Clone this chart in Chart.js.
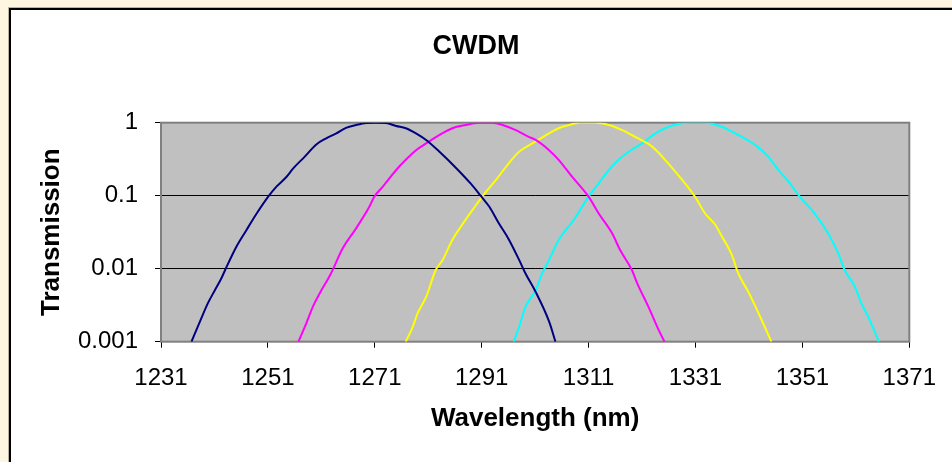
<!DOCTYPE html>
<html>
<head>
<meta charset="utf-8">
<script src="https://cdn.jsdelivr.net/npm/chart.js@4"></script>
<style>
  body { margin: 0; background: #fef6e0; width: 952px; height: 462px; overflow: hidden; }
  .frame { position: absolute; left: 9px; top: 8px; width: 960px; height: 470px; background: #fff;
    border-left: 2px solid #000; border-top: 2px solid #000; box-shadow: -1px -1px 0 #b9b39f; }
  #chart { position: absolute; left: 0; top: 0; }
</style>
</head>
<body>
<div class="frame"></div>
<canvas id="chart" width="952" height="462"></canvas>
<script>
const chartTitle = "CWDM";
const xTicks = [1231, 1251, 1271, 1291, 1311, 1331, 1351, 1371];
const yTicks = [1, 0.1, 0.01, 0.001];

const navyNm = [1236.7, 1238.3, 1239.8, 1241.1, 1242.3, 1243.0, 1245.1, 1247.0, 1248.9, 1251.2, 1252.6, 1254.5, 1255.7, 1257.9, 1260.0, 1261.9, 1263.8, 1265.6, 1267.5, 1269.4, 1271.2, 1273.1, 1275.0, 1276.8, 1278.7, 1280.6, 1283.1, 1286.2, 1289.0, 1290.8, 1292.4, 1294.2, 1296.1, 1298.0, 1299.2, 1301.1, 1303.6, 1304.8];
const navyT = [0.001, 0.0019, 0.0034, 0.0051, 0.0074, 0.0096, 0.020, 0.034, 0.057, 0.1, 0.133, 0.182, 0.235, 0.343, 0.50, 0.61, 0.715, 0.85, 0.93, 0.99, 1, 0.99, 0.9, 0.84, 0.715, 0.58, 0.40, 0.24, 0.145, 0.1, 0.071, 0.042, 0.025, 0.0132, 0.0086, 0.0048, 0.0019, 0.001];

const magentaNm = [1256.7, 1258.2, 1259.4, 1260.7, 1262.8, 1265.0, 1267.5, 1270.0, 1270.9, 1272.5, 1275.0, 1276.8, 1278.7, 1280.6, 1283.1, 1285.5, 1288.0, 1290.5, 1293.0, 1294.9, 1297.4, 1299.8, 1301.1, 1303.6, 1305.4, 1307.9, 1311.0, 1312.9, 1315.4, 1316.9, 1319.1, 1320.1, 1322.2, 1324.1, 1325.2];
const magentaT = [0.001, 0.0018, 0.003, 0.0046, 0.0086, 0.019, 0.0357, 0.071, 0.097, 0.133, 0.225, 0.31, 0.42, 0.52, 0.68, 0.84, 0.93, 1, 1, 0.93, 0.79, 0.64, 0.58, 0.42, 0.31, 0.182, 0.097, 0.057, 0.0305, 0.018, 0.0096, 0.0063, 0.003, 0.00145, 0.001];

const yellowNm = [1276.8, 1278.1, 1279.0, 1280.6, 1282.4, 1283.7, 1285.5, 1287.1, 1289.3, 1291.1, 1293.9, 1296.1, 1298.0, 1300.5, 1303.6, 1305.4, 1307.3, 1309.2, 1312.3, 1314.8, 1317.3, 1319.7, 1322.9, 1325.3, 1327.8, 1330.9, 1332.8, 1334.7, 1335.9, 1337.8, 1339.0, 1340.9, 1342.8, 1345.2];
const yellowT = [0.001, 0.0016, 0.00245, 0.0041, 0.0096, 0.0132, 0.0247, 0.0377, 0.064, 0.097, 0.173, 0.28, 0.40, 0.52, 0.715, 0.84, 0.93, 1, 1, 0.93, 0.79, 0.64, 0.47, 0.31, 0.19, 0.097, 0.057, 0.040, 0.028, 0.0155, 0.0086, 0.0048, 0.00245, 0.001];

const cyanNm = [1297.0, 1298.0, 1299.2, 1301.1, 1302.3, 1303.6, 1305.4, 1308.2, 1311.0, 1312.9, 1314.8, 1316.6, 1318.5, 1321.0, 1323.5, 1326.0, 1328.5, 1329.7, 1332.8, 1335.9, 1339.0, 1342.1, 1344.6, 1346.5, 1348.4, 1350.5, 1353.3, 1355.8, 1357.7, 1358.9, 1360.8, 1362.0, 1363.3, 1365.3];
const cyanT = [0.001, 0.0016, 0.003, 0.0051, 0.0086, 0.0132, 0.0247, 0.0465, 0.097, 0.148, 0.225, 0.31, 0.40, 0.52, 0.715, 0.88, 0.98, 1, 1, 0.88, 0.68, 0.50, 0.343, 0.225, 0.156, 0.097, 0.057, 0.0305, 0.0162, 0.0096, 0.0057, 0.0034, 0.0022, 0.001];

function points(xs, ys) {
  return xs.map((x, i) => ({ x, y: ys[i] }));
}

function series(xs, ys, color) {
  return {
    data: points(xs, ys),
    borderColor: color,
    borderWidth: 2,
    pointRadius: 0,
    cubicInterpolationMode: "monotone",
    fill: false,
  };
}

const FONT = "'Liberation Sans', Arial, sans-serif";

// grey plot background, frame and the centred title
const plotArea = {
  id: "plotArea",
  beforeDraw(chart) {
    const { ctx, chartArea: a } = chart;
    ctx.save();
    ctx.fillStyle = "#c0c0c0";
    ctx.fillRect(a.left, a.top, a.right - a.left, a.bottom - a.top);
    ctx.restore();
  },
  beforeDatasetsDraw(chart) {
    const { ctx, chartArea: a } = chart;
    ctx.save();
    ctx.strokeStyle = "#808080";
    ctx.lineWidth = 2;
    ctx.strokeRect(a.left, a.top, a.right - a.left, a.bottom - a.top);
    ctx.restore();
  },
  afterDraw(chart) {
    const { ctx } = chart;
    ctx.save();
    ctx.fillStyle = "#000";
    ctx.font = "bold 27px " + FONT;
    ctx.textAlign = "center";
    ctx.textBaseline = "middle";
    ctx.fillText(chartTitle, 476, 47);
    ctx.restore();
  },
};

new Chart(document.getElementById("chart"), {
  type: "line",
  data: {
    datasets: [
      series(navyNm, navyT, "#000080"),
      series(magentaNm, magentaT, "#ff00ff"),
      series(yellowNm, yellowT, "#ffff00"),
      series(cyanNm, cyanT, "#00ffff"),
    ],
  },
  options: {
    responsive: false,
    animation: false,
    layout: { padding: { left: 0, right: 41, top: 122.7, bottom: 0 } },
    plugins: {
      legend: { display: false },
      tooltip: { enabled: false },
      title: { display: false },
    },
    scales: {
      x: {
        type: "linear",
        min: 1231,
        max: 1371,
        afterBuildTicks: (scale) => { scale.ticks = xTicks.map((v) => ({ value: v })); },
        afterFit: (scale) => { scale.height = 120.3; },
        ticks: {
          color: "#000",
          font: { family: FONT, size: 24 },
          padding: 16,
          maxRotation: 0,
          callback: (value) => String(value),
        },
        grid: { drawOnChartArea: false, drawTicks: true, tickLength: 6, color: "#000" },
        border: { display: false },
        title: {
          display: true,
          text: "Wavelength (nm)",
          color: "#000",
          font: { family: FONT, size: 26, weight: "bold" },
          padding: { top: 0, bottom: 27.4 },
        },
      },
      y: {
        type: "logarithmic",
        min: 0.001,
        max: 1,
        afterBuildTicks: (scale) => { scale.ticks = yTicks.map((v) => ({ value: v })); },
        afterFit: (scale) => { scale.width = 161; },
        ticks: {
          color: "#000",
          font: { family: FONT, size: 24 },
          padding: 17,
          callback: (value) => String(value),
        },
        grid: { color: "#000", lineWidth: 1, tickLength: 6 },
        border: { display: false },
        title: {
          display: true,
          text: "Transmission",
          color: "#000",
          font: { family: FONT, size: 26, weight: "bold" },
          padding: { top: 36.4, bottom: 0 },
        },
      },
    },
  },
  plugins: [plotArea],
});
</script>
</body>
</html>
